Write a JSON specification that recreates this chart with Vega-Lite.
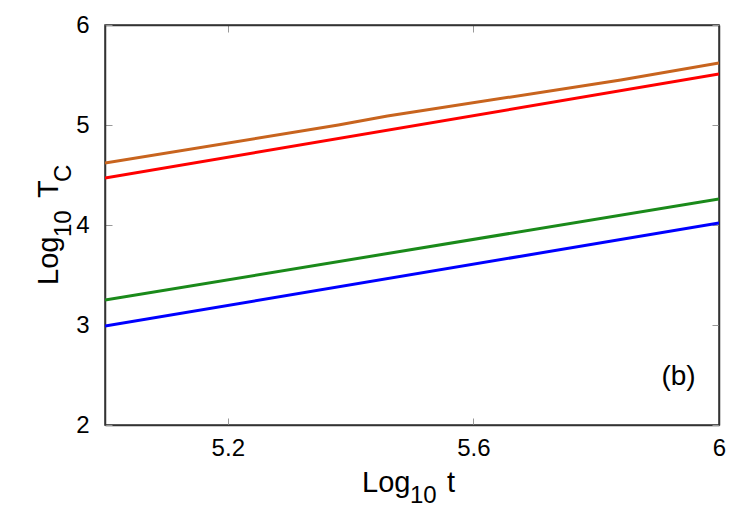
{
  "$schema": "https://vega.github.io/schema/vega-lite/v6.json",
  "autosize": "none",
  "width": 614,
  "height": 400,
  "padding": {"left": 105, "top": 25, "right": 31, "bottom": 100},
  "background": "white",
  "config": {
    "font": "Liberation Sans",
    "view": {"stroke": "#333333", "strokeWidth": 1.5},
    "axis": {"grid": false, "labelFlush": false},
    "text": {"color": "black", "font": "Liberation Sans"}
  },
  "datasets": {
    "lines": [
      {"s": "a", "x": 5.0, "y": 4.62},
      {"s": "a", "x": 5.38, "y": 5.0},
      {"s": "a", "x": 5.46, "y": 5.09},
      {"s": "a", "x": 5.84, "y": 5.45},
      {"s": "a", "x": 6.0, "y": 5.62},
      {"s": "b", "x": 5.0, "y": 4.47},
      {"s": "b", "x": 6.0, "y": 5.51},
      {"s": "c", "x": 5.0, "y": 3.25},
      {"s": "c", "x": 6.0, "y": 4.26},
      {"s": "d", "x": 5.0, "y": 2.99},
      {"s": "d", "x": 6.0, "y": 4.02}
    ],
    "label": [{"x": 5.962, "y": 2.48, "t": "(b)"}],
    "xtitleMain": [{"x": 5.4186, "y": 1.33, "t": "Log"}, {"x": 5.557, "y": 1.33, "t": "t"}],
    "xtitleSub": [{"x": 5.4967, "y": 1.217, "t": "10"}],
    "ytitleMain": [{"x": 4.9235, "y": 3.40, "t": "Log"}, {"x": 4.9235, "y": 4.27, "t": "T"}],
    "ytitleSub": [{"x": 4.9446, "y": 3.88, "t": "10"}, {"x": 4.9446, "y": 4.43, "t": "C"}]
  },
  "resolve": {"axis": {"x": "independent", "y": "independent"}},
  "layer": [
    {
      "data": {"name": "lines"},
      "mark": {"type": "line", "strokeWidth": 3, "clip": true},
      "encoding": {
        "x": {
          "field": "x", "type": "quantitative",
          "scale": {"domain": [5, 6], "nice": false, "zero": false},
          "axis": {
            "values": [5.2, 5.6, 6.0], "format": ".1~f", "title": null,
            "labelFontSize": 24, "labelColor": "black", "labelPadding": 18, "labelFlush": false,
            "tickSize": -7, "tickColor": "#999999", "tickWidth": 1,
            "domainColor": "#333333", "domainWidth": 1.5
          }
        },
        "y": {
          "field": "y", "type": "quantitative",
          "scale": {"domain": [2, 6], "nice": false, "zero": false},
          "axis": {
            "values": [2, 3, 4, 5, 6], "format": "d", "title": null,
            "labelFontSize": 24, "labelColor": "black", "labelPadding": 23, "labelFlush": false,
            "tickSize": -7, "tickColor": "#999999", "tickWidth": 1,
            "domainColor": "#333333", "domainWidth": 1.5
          }
        },
        "color": {
          "field": "s", "type": "nominal", "legend": null,
          "scale": {"domain": ["a", "b", "c", "d"], "range": ["#c8641e", "#ff0000", "#1a8a1a", "#0000ff"]}
        }
      }
    },
    {
      "data": {"name": "label"},
      "mark": {"type": "text", "fontSize": 28, "align": "right", "baseline": "middle"},
      "encoding": {
        "x": {
          "field": "x", "type": "quantitative",
          "scale": {"domain": [5, 6], "nice": false, "zero": false},
          "axis": {
            "orient": "top", "values": [5.2, 5.6, 6.0], "labels": false, "title": null,
            "tickSize": -7, "tickColor": "#999999", "tickWidth": 1,
            "domainColor": "#333333", "domainWidth": 1.5
          }
        },
        "y": {
          "field": "y", "type": "quantitative",
          "scale": {"domain": [2, 6], "nice": false, "zero": false},
          "axis": {
            "orient": "right", "values": [2, 3, 4, 5, 6], "labels": false, "title": null,
            "tickSize": -7, "tickColor": "#999999", "tickWidth": 1,
            "domainColor": "#333333", "domainWidth": 1.5
          }
        },
        "text": {"field": "t", "type": "nominal"}
      }
    },
    {
      "data": {"name": "xtitleMain"},
      "mark": {"type": "text", "fontSize": 29, "align": "left", "baseline": "alphabetic", "clip": false},
      "encoding": {
        "x": {"field": "x", "type": "quantitative", "scale": {"domain": [5, 6], "nice": false, "zero": false}, "axis": null},
        "y": {"field": "y", "type": "quantitative", "scale": {"domain": [2, 6], "nice": false, "zero": false}, "axis": null},
        "text": {"field": "t", "type": "nominal"}
      }
    },
    {
      "data": {"name": "xtitleSub"},
      "mark": {"type": "text", "fontSize": 24, "align": "left", "baseline": "alphabetic", "clip": false},
      "encoding": {
        "x": {"field": "x", "type": "quantitative", "scale": {"domain": [5, 6], "nice": false, "zero": false}, "axis": null},
        "y": {"field": "y", "type": "quantitative", "scale": {"domain": [2, 6], "nice": false, "zero": false}, "axis": null},
        "text": {"field": "t", "type": "nominal"}
      }
    },
    {
      "data": {"name": "ytitleMain"},
      "mark": {"type": "text", "fontSize": 29, "align": "left", "baseline": "alphabetic", "angle": 270, "clip": false},
      "encoding": {
        "x": {"field": "x", "type": "quantitative", "scale": {"domain": [5, 6], "nice": false, "zero": false}, "axis": null},
        "y": {"field": "y", "type": "quantitative", "scale": {"domain": [2, 6], "nice": false, "zero": false}, "axis": null},
        "text": {"field": "t", "type": "nominal"}
      }
    },
    {
      "data": {"name": "ytitleSub"},
      "mark": {"type": "text", "fontSize": 24, "align": "left", "baseline": "alphabetic", "angle": 270, "clip": false},
      "encoding": {
        "x": {"field": "x", "type": "quantitative", "scale": {"domain": [5, 6], "nice": false, "zero": false}, "axis": null},
        "y": {"field": "y", "type": "quantitative", "scale": {"domain": [2, 6], "nice": false, "zero": false}, "axis": null},
        "text": {"field": "t", "type": "nominal"}
      }
    }
  ]
}
